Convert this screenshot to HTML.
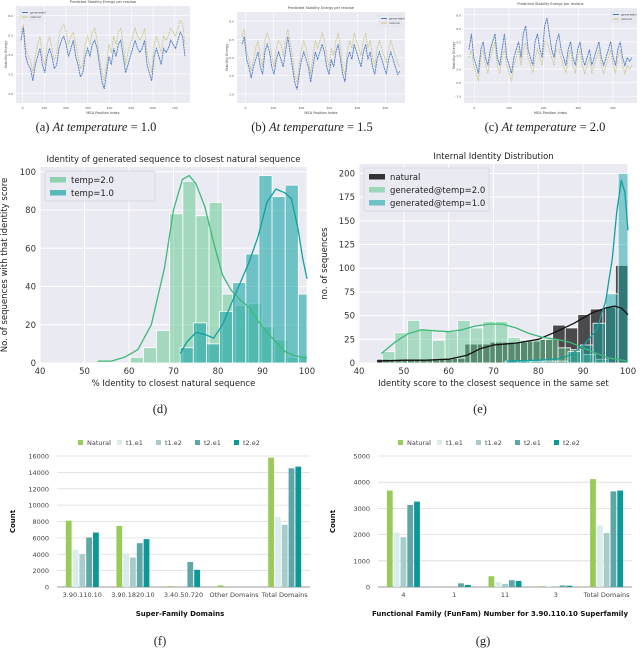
<!DOCTYPE html>
<html><head><meta charset="utf-8">
<style>
body{margin:0;background:#fff;}
svg{display:block;font-family:"DejaVu Sans","Liberation Sans",sans-serif;}
.cap{font-family:"Liberation Serif",serif;font-size:12.5px;fill:#222;}
</style></head>
<body>
<svg id="fig" width="640" height="651" viewBox="0 0 640 651" xmlns="http://www.w3.org/2000/svg"></svg>
<script>
// ---------- data: top line charts ----------
const lineA_gen=[7,8.6,5,4,3.5,2,4,5,6,4,3,5,6,5,3.5,4,6,7,7.5,6.5,5,6,7,5,4,2.5,3,5,6,5,6.5,7,6,4,2,1,3,5,4,6,5,6.5,7,5,3,4,5,6,7,6,5.5,6,7,4,3,2,5,6,5,4,6,5.5,6,7,6.5,6,7,8,7.5,5];
const lineA_nat=[8,9,6,5,4.5,3,5,6.5,7.5,5,4,6.5,7.5,6,4.5,5.5,7.5,8.5,9,8,6.5,7.5,8,6.5,5,3.5,4,6.5,7.5,6.5,8,8.5,7,5,3,2,4,6.5,5.5,7.5,6.5,8,8.5,6.5,4,5.5,6.5,7.5,8.5,7.5,7,7.5,8.5,5.5,4,3,6.5,7.5,6.5,5.5,7.5,7,7.5,8.5,8,7.5,8.5,9.5,9,6.5];
const lineB_gen=[7,8,5,4,2.5,4,5,6,4,3,6,7,6,4,3,5,6,5,4,6,8,6,4,2,1,3,5,6,5,4,2,4,6,5,6,7,6,4,3,5,4,6,7,5,3,2,5,6,5,7,6,5,4,6,7,5,6,4,3,5,6,5,4,3,5,6,5,4,3,3.5];
const lineB_nat=[8,9,6,5,3.5,5,6.5,7.5,5.5,4,7.5,8.5,7.5,5.5,4,6.5,7.5,7,5.5,7.5,9,7.5,5.5,3,2,4,6.5,7.5,6.5,5,3,5.5,7.5,6.5,7.5,8.5,7.5,5.5,4,6.5,5.5,7.5,8.5,6.5,4,3,6,7.5,6.5,8.5,7.5,6.5,5.5,7.5,8.5,6.5,7.5,5.5,4,6.5,7.5,6.5,5.5,4.5,6.5,7.5,6.5,5.5,4.5,4];
const lineC_gen=[6,8,5,4,3,6,7,5,4,6,7,8,5,4,6,8,5,4,3,5,6,7,5,8,9,6,5,4,7,8,6,5,9,10,8,6,5,7,8,6,5,4,6,7,5,4,6,7,5,4,5,6,4,5,6,7,5,4,5,6,7,5,4,6,7,5,4,5,4.5,5];
const lineC_gen2=[5,6,4,3,2,5,6,4,3,5,6,7,4,3,5,6,4,3,2,4,5,6,4,6,7,5,4,3,5,6,5,4,7,7,6,5,4,6,6,5,4,3,5,6,4,3,5,6,4,3,4,5,3,4,5,6,4,3,4,5,6,4,3,5,6,4,3,4,3.5,4];

// ---------- data: (d) ----------
const dBinStart=60.3, dBinW=2.95;
const dTemp2=[3,8,17,78,95,77,84,36,30,31,19,12,3,3];
const dTemp1Start=71.5, dTemp1W=2.95;
const dTemp1=[8,21,10,27,42,57,98,87,93,36];
const dKde2X=[53,56,59,62,65,68,70,72,73.5,75,77,79,81,83,85,87,89,91,93,95,97,99,100];
const dKde2Y=[1,1,3,7,20,50,80,96,98,94,82,63,46,38,33,29,22,16,11,6,4,3,3];
const dKde1X=[71.5,73,75,77,79,81,83,85,87,89,91,93,95,96.5,98,99,100];
const dKde1Y=[5,11,16,15,13,20,31,42,53,66,84,91,89,86,70,55,44];

// ---------- data: (e) ----------
const eStart=44, eW=2.8;
const eNatural=[4,3,3,3,3,4,5,20,20,22,22,22,23,25,40,37,51,57,59,103];
const eGen2Start=45.2;
const eGen2=[12,32,45,35,24,33,45,37,44,44,27,24,25,25,16,14,9,4];
const eGen1Start=72.6;
const eGen1=[2,2,2,2,2,12,19,42,73,200];
const eKdeNatX=[44,50,55,60,64,67,70,75,80,84,88,92,95,97,98.5,100];
const eKdeNatY=[2,3,3,4,8,15,19,21,25,33,42,53,58,60,58,51];
const eKdeG2X=[45,48,51,54,57,60,63,66,69,72,75,78,81,84,87,90,93,96,100];
const eKdeG2Y=[10,22,31,35,34,33,35,39,41,41,37,31,27,25,22,16,10,5,2];
const eKdeG1X=[73,80,84,87,90,93,95,96.5,97.5,98.5,99.3,100];
const eKdeG1Y=[2,3,4,8,18,35,65,110,160,193,180,140];

// ---------- data: (f),(g) ----------
const seriesNames=["Natural","t1.e1","t1.e2","t2.e1","t2.e2"];
const fCats=["3.90.110.10","3.90.1820.10","3.40.50.720","Other Domains","Total Domains"];
const fNatural=[8100,7450,100,200,15800];
const fT1e1=[4550,4100,0,0,8550];
const fT1e2=[4000,3600,0,0,7600];
const fT2e1=[6050,5350,3050,0,14500];
const fT2e2=[6650,5850,2100,0,14700];
const fTicks=[0,2000,4000,6000,8000,10000,12000,14000,16000];
const gCats=["4","1","11","3","Total Domains"];
const gNatural=[3680,0,410,30,4120];
const gT1e1=[2080,0,190,50,2350];
const gT1e2=[1900,0,120,30,2060];
const gT2e1=[3130,140,260,60,3650];
const gT2e2=[3260,80,230,50,3680];
const gTicks=[0,1000,2000,3000,4000,5000];

const NS="http://www.w3.org/2000/svg";
const svg=document.getElementById('fig');
function mk(tag,attrs,parent,text){const e=document.createElementNS(NS,tag);for(const k in attrs)e.setAttribute(k,attrs[k]);if(text!==undefined)e.textContent=text;(parent||svg).appendChild(e);return e;}

// ---------- top line panels ----------
function linePanel(id,x0,x1,y0,y1,s1,s2,c1,c2,xticks,yticks,legRight){
  const g=mk('g',{});
  
  
  mk('rect',{x:x0,y:y0,width:x1-x0,height:y1-y0,fill:'#eaeaf2'},g);
  for(let i=0;i<yticks;i++){const y=y0+(y1-y0)*(i+0.5)/yticks;mk('line',{x1:x0,x2:x1,y1:y,y2:y,stroke:'#fff','stroke-width':0.6},g);mk('text',{x:x0-3,y:y+1.5,'font-size':3,'text-anchor':'end',fill:'#555'},g,(8-i*1.5).toFixed(1));}
  for(let i=0;i<xticks;i++){const x=x0+(x1-x0)*(i+0.3)/xticks;mk('line',{x1:x,x2:x,y1:y0,y2:y1,stroke:'#fff','stroke-width':0.6},g);mk('text',{x:x,y:y1+6,'font-size':3,'text-anchor':'middle',fill:'#555'},g,String(i*100));}
  const n=s1.length;
  const sx=i=>x0+5+(x1-x0-10)*i/(n-1);
  const sy=v=>y1-6-(y1-y0-12)*v/10.5;
  [[s2,c2],[s1,c1]].forEach(([s,c],k)=>{
    let d='';s.forEach((v,i)=>{d+=(i?'L':'M')+sx(i).toFixed(1)+','+sy(v).toFixed(1);});
    const p=mk('path',{d:d,fill:'none',stroke:c,'stroke-width':0.9,'stroke-dasharray':k?'2,0.6':'1.5,1'},g);
    
    
  });
  const lx=legRight?x1-26:x0+4;
  const lg=mk('g',{},g);
  
  mk('rect',{x:lx,y:y0+3,width:23,height:11,fill:'#eaeaf2',stroke:'#d5d5dd','stroke-width':0.4},lg);
  mk('line',{x1:lx+2,x2:lx+8,y1:y0+6.5,y2:y0+6.5,stroke:c1,'stroke-width':1},lg);
  mk('line',{x1:lx+2,x2:lx+8,y1:y0+11,y2:y0+11,stroke:c2,'stroke-width':1},lg);
  mk('text',{x:lx+10,y:y0+7.5,'font-size':3,fill:'#444'},lg,'generated');
  mk('text',{x:lx+10,y:y0+12,'font-size':3,fill:'#444'},lg,'natural');
  mk('text',{x:(x0+x1)/2,y:y0-3,'font-size':3.5,'text-anchor':'middle',fill:'#444'},g,'Predicted Stability Energy per residue');
  mk('text',{x:(x0+x1)/2,y:y1+11,'font-size':3.5,'text-anchor':'middle',fill:'#444'},g,'MSA Position Index');
  mk('text',{x:x0-9,y:(y0+y1)/2,'font-size':3.5,'text-anchor':'middle',fill:'#444',transform:`rotate(-90 ${x0-9} ${(y0+y1)/2})`},g,'Stability Energy');
}
linePanel('line-chart-a',16,190,6,103,lineA_gen,lineA_nat,'#4a78c4','#c9c27a',8,5,false);
linePanel('line-chart-b',237,405,12,103,lineB_gen,lineB_nat,'#4a78c4','#c9c27a',6,5,true);
linePanel('line-chart-c',464,637,8,103,lineC_gen,lineC_gen2,'#4a78c4','#c9c27a',5,7,true);

function caption(x,y,label,temp,name){
  const t=mk('text',{x:x,y:y,'text-anchor':'middle',class:'cap'});
  
  
  mk('tspan',{},t,label+' ');
  if(temp){mk('tspan',{'font-style':'italic'},t,'At temperature');mk('tspan',{},t,' = '+temp);}
}
caption(96,131,'(a)','1.0','caption-a');
caption(312,131,'(b)','1.5','caption-b');
caption(545,131,'(c)','2.0','caption-c');
caption(160,413,'(d)',null,'caption-d');
caption(480,413,'(e)',null,'caption-e');
caption(160,645,'(f)',null,'caption-f');
caption(483,645,'(g)',null,'caption-g');

// ---------- histogram panels ----------
function histPanel(o){
  const g=mk('g',{});
  
  
  const X=v=>o.x0+(v-40)/60*(o.x1-o.x0);
  const Y=v=>o.y1-v/o.ymax*(o.y1-o.y0);
  mk('rect',{x:o.x0,y:o.y0,width:o.x1-o.x0,height:o.y1-o.y0,fill:'#eaeaf2'},g);
  [40,50,60,70,80,90,100].forEach(v=>{mk('line',{x1:X(v),x2:X(v),y1:o.y0,y2:o.y1,stroke:'#fff','stroke-width':1},g);mk('text',{x:X(v),y:o.y1+11,'font-size':8.5,'text-anchor':'middle',fill:'#333'},g,String(v));});
  o.yticks.forEach(v=>{mk('line',{x1:o.x0,x2:o.x1,y1:Y(v),y2:Y(v),stroke:'#fff','stroke-width':1},g);mk('text',{x:o.x0-4,y:Y(v)+3,'font-size':8.5,'text-anchor':'end',fill:'#333'},g,String(v));});
  o.series.forEach(s=>{
    s.vals.forEach((v,i)=>{
      const a=s.start+i*s.w, b=Math.min(100,a+s.w);
      const r=mk('rect',{x:X(a),y:Y(v),width:X(b)-X(a),height:o.y1-Y(v),fill:s.color,'fill-opacity':s.op,stroke:'#fff','stroke-width':0.8},g);
      
      
    });
  });
  o.kdes.forEach(k=>{
    let d='';k.xs.forEach((x,i)=>{d+=(i?'L':'M')+X(x).toFixed(1)+','+Y(k.ys[i]).toFixed(1);});
    const p=mk('path',{d:d,fill:'none',stroke:k.color,'stroke-width':1.3,'stroke-linejoin':'round'},g);
    
    
  });
  const tt=mk('text',{x:(o.x0+o.x1)/2,y:o.y0-5,'font-size':8.5,'text-anchor':'middle',fill:'#222'},g,o.title);
  
  const xl=mk('text',{x:(o.x0+o.x1)/2,y:o.y1+23,'font-size':8.5,'text-anchor':'middle',fill:'#222'},g,o.xlabel);
  
  const cy=(o.y0+o.y1)/2;
  const yl=mk('text',{x:o.ylx,y:cy,'font-size':8.5,'text-anchor':'middle',fill:'#222',transform:`rotate(-90 ${o.ylx} ${cy})`},g,o.ylabel);
  
  const lg=mk('g',{},g);
  
  mk('rect',{x:o.x0+5,y:o.y0+4,width:o.legW,height:o.legend.length*13+4,rx:2,fill:'#eaeaf2',stroke:'#d5d5dd','stroke-width':0.8},lg);
  o.legend.forEach((l,i)=>{
    const yy=o.y0+10+i*13;
    mk('rect',{x:o.x0+10,y:yy,width:16,height:5.5,fill:l.color,'fill-opacity':l.op},lg);
    const t=mk('text',{x:o.x0+31,y:yy+6,'font-size':8.5,fill:'#222'},lg,l.label);
    
  });
}
histPanel({name:'histogram-d',x0:40,x1:307,y0:167,y1:363,ymax:102.5,yticks:[0,20,40,60,80,100],
  title:'Identity of generated sequence to closest natural sequence',xlabel:'% Identity to closest natural sequence',
  ylabel:'No. of sequences with that identity score',ylx:7,legW:110,
  series:[{key:'temp2',vals:dTemp2,start:dBinStart,w:dBinW,color:'#66c994',op:0.55},{key:'temp1',vals:dTemp1,start:dTemp1Start,w:dTemp1W,color:'#1ba5a5',op:0.6}],
  kdes:[{key:'temp2',xs:dKde2X,ys:dKde2Y,color:'#3cba78'},{key:'temp1',xs:dKde1X,ys:dKde1Y,color:'#12a0a0'}],
  legend:[{label:'temp=2.0',color:'#66c994',op:0.7},{label:'temp=1.0',color:'#1ba5a5',op:0.7}]});
histPanel({name:'histogram-e',x0:359,x1:628,y0:164,y1:363,ymax:210,yticks:[0,25,50,75,100,125,150,175,200],
  title:'Internal Identity Distribution',xlabel:'Identity score to the closest sequence in the same set',
  ylabel:'no. of sequences',ylx:327,legW:125,
  series:[{key:'natural',vals:eNatural,start:eStart,w:eW,color:'#222',op:0.8},{key:'gen2',vals:eGen2,start:eGen2Start,w:eW,color:'#66c994',op:0.5},{key:'gen1',vals:eGen1,start:eGen1Start,w:eW,color:'#1ba5a5',op:0.5}],
  kdes:[{key:'natural',xs:eKdeNatX,ys:eKdeNatY,color:'#111'},{key:'gen2',xs:eKdeG2X,ys:eKdeG2Y,color:'#3cba78'},{key:'gen1',xs:eKdeG1X,ys:eKdeG1Y,color:'#12a0a0'}],
  legend:[{label:'natural',color:'#333',op:1},{label:'generated@temp=2.0',color:'#66c994',op:0.6},{label:'generated@temp=1.0',color:'#1ba5a5',op:0.6}]});

// ---------- grouped bar panels ----------
const barColors=['#9acb5a','#d9eded','#a8cccc','#5fa6a6','#0c9898'];
function barPanel(o){
  const g=mk('g',{});
  
  
  const Y=v=>o.y1-v/o.ymax*(o.y1-o.y0);
  o.ticks.forEach(v=>{mk('line',{x1:o.x0,x2:o.x1,y1:Y(v),y2:Y(v),stroke:v?'#dcdcdc':'#999','stroke-width':v?0.8:1},g);mk('text',{x:o.x0-8,y:Y(v)+2.5,'font-size':6.5,'text-anchor':'end',fill:'#444'},g,String(v));});
  const cw=(o.x1-o.x0)/o.cats.length;
  o.cats.forEach((c,i)=>{
    const cx=o.x0+cw*(i+0.5);
    o.vals.forEach((arr,j)=>{
      const bw=5.8,x=cx-2.5*bw-2+j*(bw+1);
      const r=mk('rect',{x:x,y:Y(arr[i]),width:bw,height:o.y1-Y(arr[i]),fill:barColors[j]},g);
      
      
    });
    mk('text',{x:cx,y:o.y1+10,'font-size':6.5,'text-anchor':'middle',fill:'#444'},g,c);
  });
  const lg=mk('g',{},g);
  
  seriesNames.forEach((n,j)=>{
    const lx=o.legX+j*39;
    mk('rect',{x:lx,y:o.legY-5,width:5,height:5,fill:barColors[j]},lg);
    const t=mk('text',{x:lx+9,y:o.legY,'font-size':6.5,fill:'#444'},lg,n);
    
  });
  const xl=mk('text',{x:o.xlx,y:o.y1+29,'font-size':7,'font-weight':'bold','text-anchor':'middle',fill:'#111'},g,o.xlabel);
  
  const cy=(o.y0+o.y1)/2;
  const yl=mk('text',{x:o.ylx,y:cy,'font-size':7,'font-weight':'bold','text-anchor':'middle',fill:'#111',transform:`rotate(-90 ${o.ylx} ${cy})`},g,'Count');
  
}
barPanel({name:'bar-chart-f',x0:57,x1:310,y0:456,y1:587,ymax:16000,ticks:fTicks,cats:fCats,
  vals:[fNatural,fT1e1,fT1e2,fT2e1,fT2e2],legX:78,legY:445,xlabel:'Super-Family Domains',xlx:180,ylx:15});
barPanel({name:'bar-chart-g',x0:378,x1:632,y0:456,y1:587,ymax:5000,ticks:gTicks,cats:gCats,
  vals:[gNatural,gT1e1,gT1e2,gT2e1,gT2e2],legX:398,legY:445,xlabel:'Functional Family (FunFam) Number for 3.90.110.10 Superfamily',xlx:500,ylx:335});
</script>
</body></html>
